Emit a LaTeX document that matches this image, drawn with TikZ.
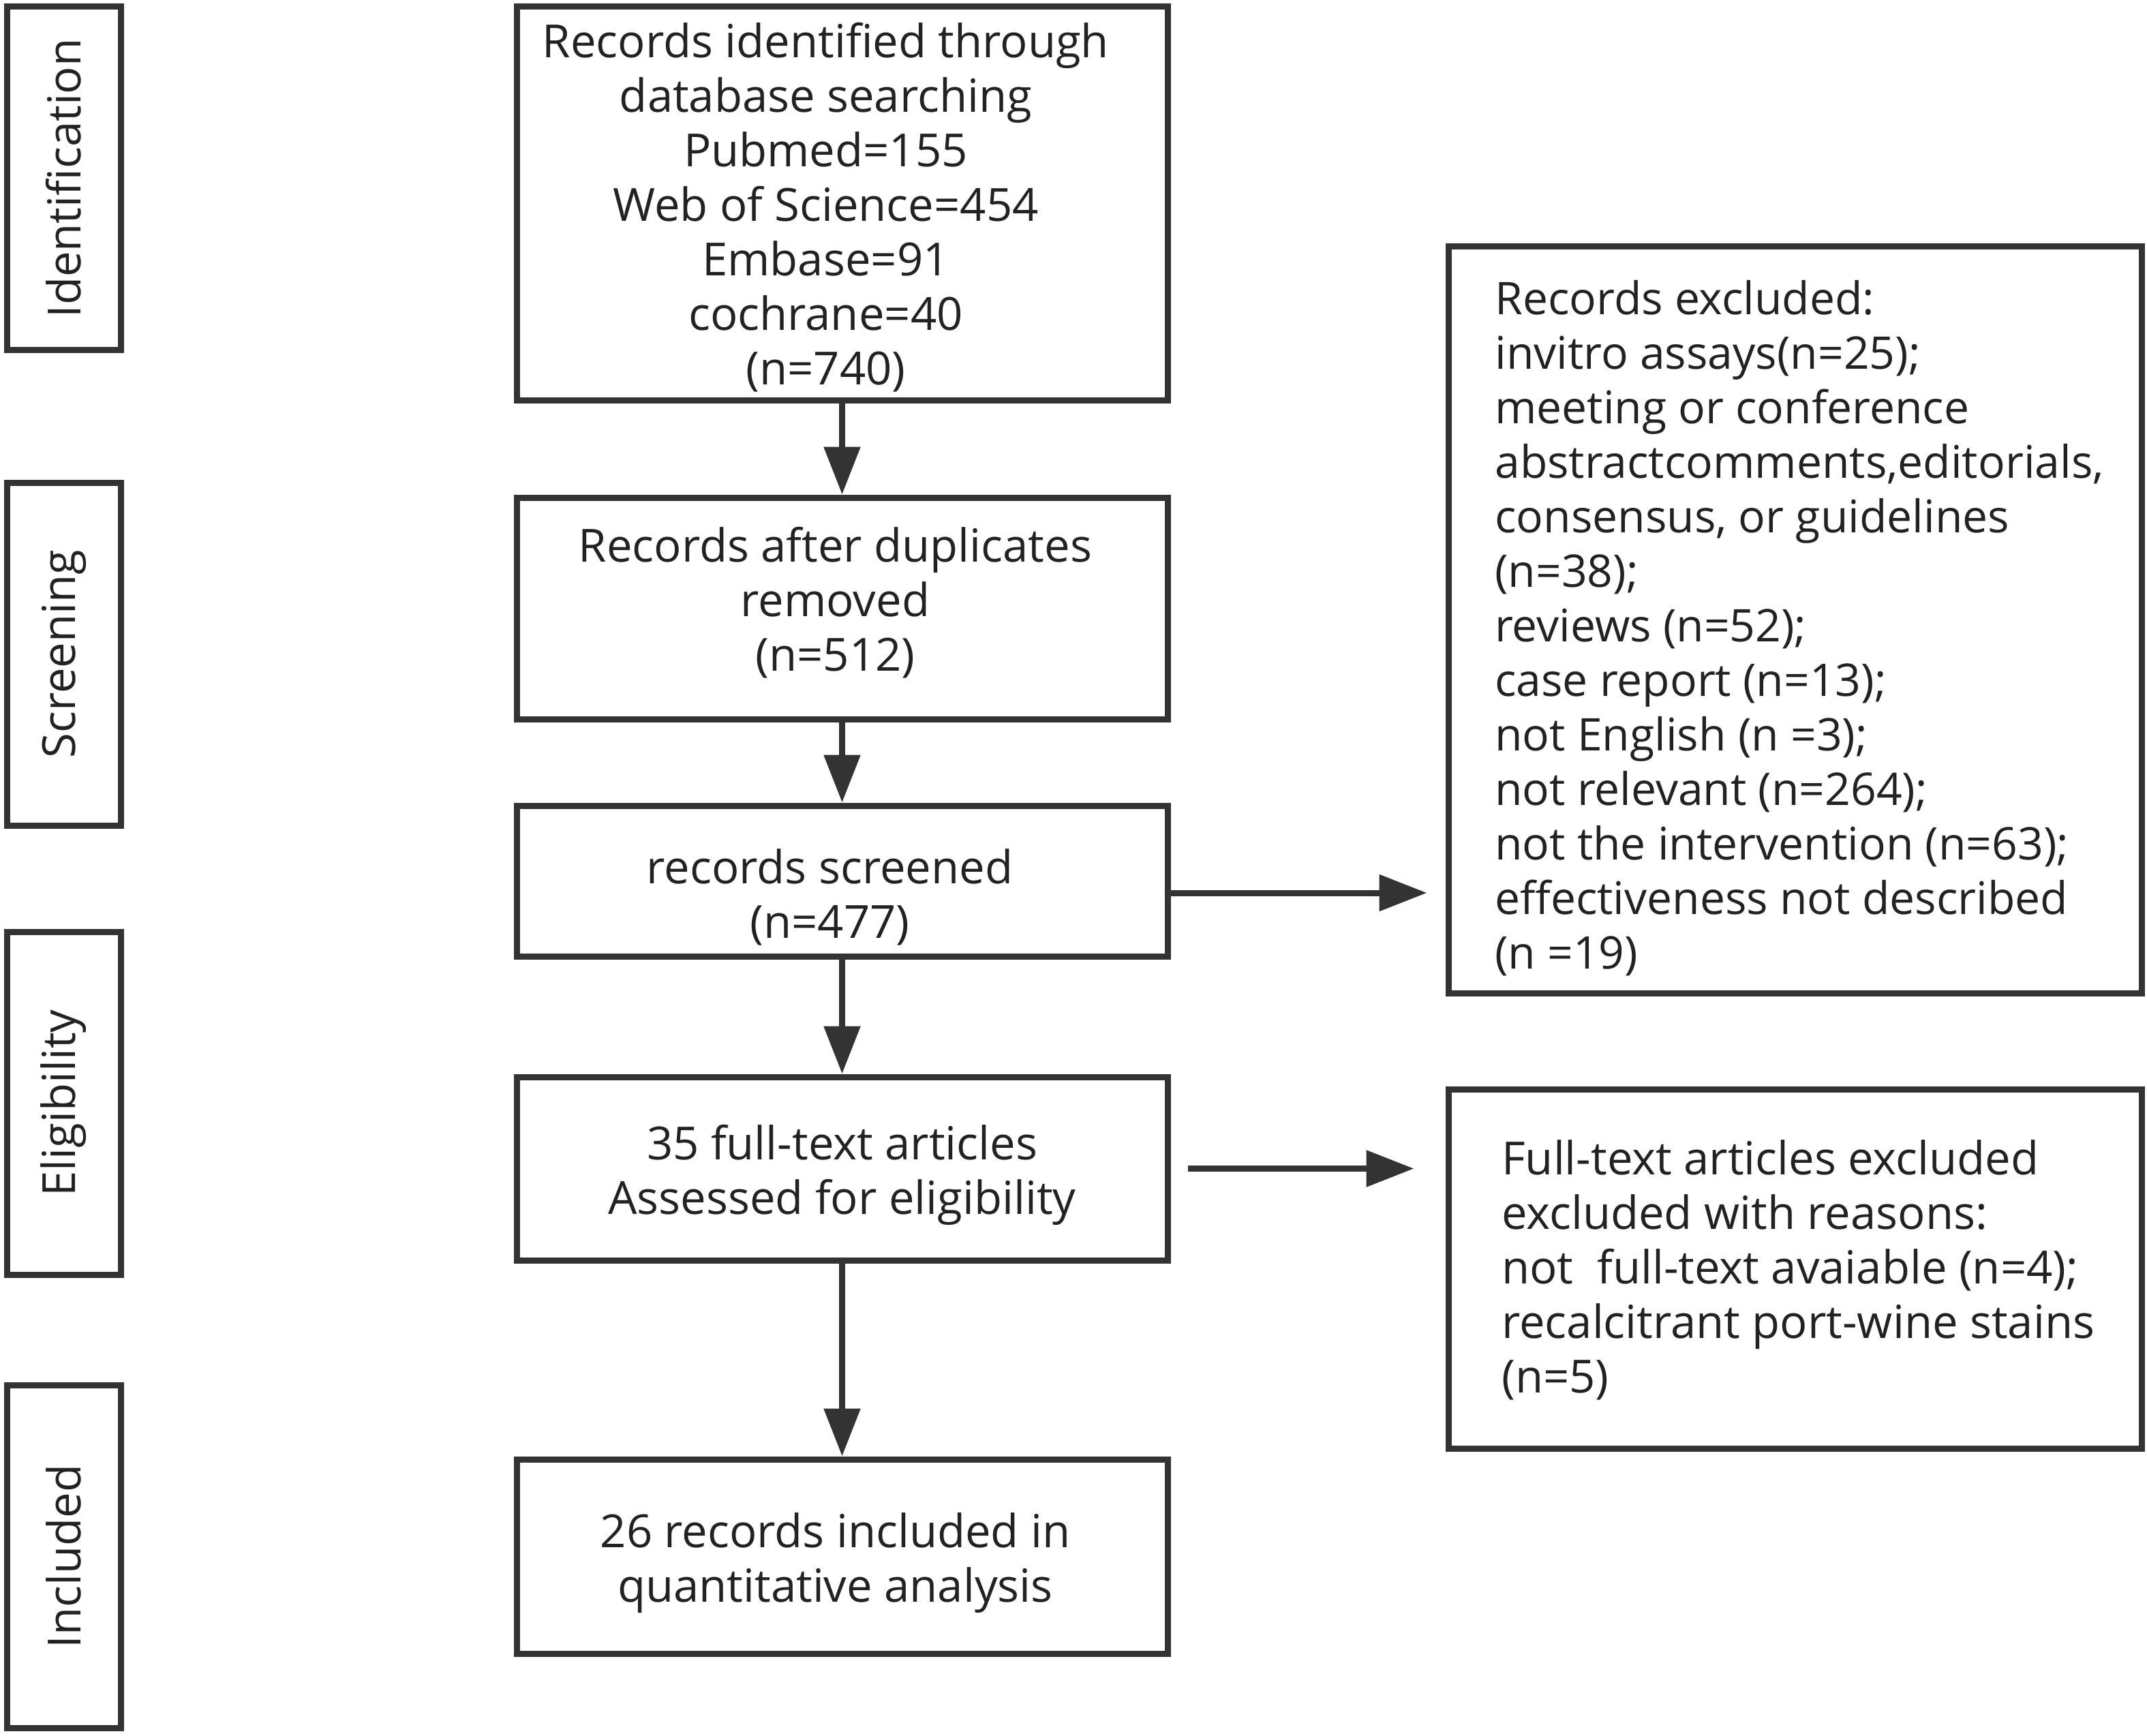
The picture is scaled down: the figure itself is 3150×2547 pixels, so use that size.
\documentclass[tikz,border=0pt]{standalone}
\usepackage{fontspec}
\setmainfont{Open Sans}
\usetikzlibrary{arrows.meta,calc}
\definecolor{ink}{HTML}{333333}
\definecolor{txt}{HTML}{222222}
\begin{document}
\begin{tikzpicture}[x=0.25pt,y=-0.25pt,
  box/.style={draw=ink, line width=2.25pt, rectangle, inner sep=0pt, minimum width=238.75pt},
  mtext/.style={inner sep=0pt, text=txt, font=\fontsize{16.75pt}{20pt}\selectfont, align=center},
  sidebox/.style={draw=ink, line width=2.25pt, rectangle, inner sep=0pt, text=txt,
    font=\fontsize{16.75pt}{20pt}\selectfont, rotate=90, minimum width=125.75pt, minimum height=41.75pt},
  exclbox/.style={draw=ink, line width=2.25pt, rectangle, inner sep=0pt, minimum width=254.25pt},
  exctext/.style={anchor=west, inner sep=0pt, text=txt, font=\fontsize{16.5pt}{20pt}\selectfont, align=left},
  arr/.style={draw=ink, line width=2.25pt, -{Triangle[length=17.5pt,width=13pt]}}]
\useasboundingbox (0,0) rectangle (3150,2547);

% side labels
\node[sidebox] (ident) at (93.5,261.5) {Identification};
\node[sidebox] (screen) at (93.5,959.5) {Screening};
\node[sidebox] (elig) at (93.5,1618.5) {Eligibility};
\node[sidebox] (incl) at (93.5,2283.5) {Included};

% main column
\node[box, minimum height=144.25pt] (b1) at (1235.5,298.5) {};
\node[mtext] (b1t) at ($(b1)+(-24,5.5)$) {Records identified through\\database searching\\Pubmed=155\\Web of Science=454\\Embase=91\\cochrane=40\\(n=740)};
\node[box, minimum height=81.25pt] (b2) at (1235.5,892.5) {};
\node[mtext] (b2t) at ($(b2)+(-10,-8)$) {Records after duplicates\\removed\\(n=512)};
\node[box, minimum height=55.25pt] (b3) at (1235.5,1292.5) {};
\node[mtext] (b3t) at ($(b3)+(-18,24)$) {records screened\\(n=477)};
\node[box, minimum height=67.25pt] (b4) at (1235.5,1714.5) {};
\node[mtext] (b4t) at ($(b4)+(0,9)$) {35 full-text articles\\Assessed for eligibility};
\node[box, minimum height=71.25pt] (b5) at (1235.5,2283.5) {};
\node[mtext] (b5t) at ($(b5)+(-10,10)$) {26 records included in\\quantitative analysis};

% exclusion boxes
\node[exclbox, minimum height=273.75pt] (e1) at (2633.5,909.5) {};
\node[exctext] (e1t) at ($(e1.west)+(72,12)$) {Records excluded:\\invitro assays(n=25);\\meeting or conference\\abstractcomments,editorials,\\consensus, or guidelines\\(n=38);\\reviews (n=52);\\case report (n=13);\\not English (n =3);\\not relevant (n=264);\\not the intervention (n=63);\\effectiveness not described\\(n =19)};
\node[exclbox, minimum height=131.75pt] (e2) at (2633.5,1861.5) {};
\node[exctext, font=\fontsize{16.75pt}{20pt}\selectfont] (e2t) at ($(e2.west)+(82,2)$) {Full-text articles excluded\\excluded with reasons:\\not\ \ full-text avaiable (n=4);\\recalcitrant port-wine stains\\(n=5)};

% vertical arrows
\draw[arr] (b1.south) -- (b2.north);
\draw[arr] (b2.south) -- (b3.north);
\draw[arr] (b3.south) -- (b4.north);
\draw[arr] (b4.south) -- (b5.north);

% horizontal arrows
\coordinate (a1e) at ($(e1.west |- b3.east)+(-27,17.5)$);
\draw[arr] (b3.east |- a1e) -- (a1e);
\coordinate (a2s) at ($(b4.east)+(25,0)$);
\coordinate (a2e) at ($(b4.east -| e2.west)+(-46,0)$);
\draw[arr] (a2s) -- (a2e);
\end{tikzpicture}
\end{document}
